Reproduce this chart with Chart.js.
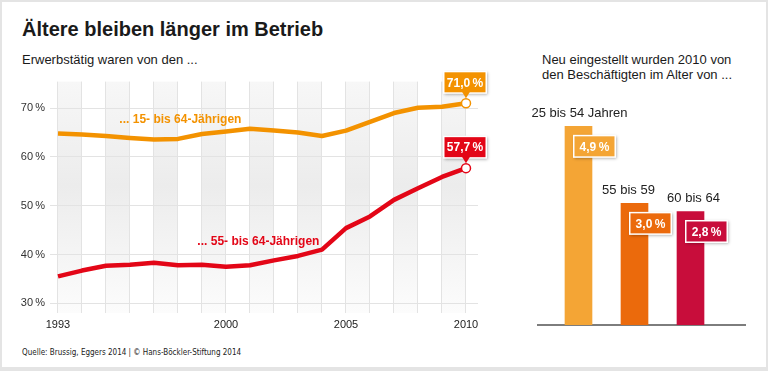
<!DOCTYPE html>
<html lang="de">
<head>
<meta charset="utf-8">
<title>Ältere bleiben länger im Betrieb</title>
<script src="https://cdn.jsdelivr.net/npm/chart.js@4.4.1/dist/chart.umd.min.js"></script>
<style>
  html, body { margin:0; padding:0; background:#fff; }
  body { position:relative; width:768px; height:371px; overflow:hidden;
         font-family:"Liberation Sans", Arial, sans-serif; color:#1a1a1a; }
  #frame { position:absolute; left:0; top:0; width:764px; height:365px;
           border-style:solid; border-color:#e4e4e4; border-width:2px 2px 4px 2px; }
  .txt { position:absolute; white-space:nowrap; }
  #title { left:22px; top:17px; font-size:20px; font-weight:bold; line-height:24px; }
  #subLeft { left:22px; top:52px; font-size:13px; line-height:16px; }
  #subRight { left:542px; top:53px; font-size:13px; line-height:14.5px; }
  #source { left:22px; top:347px; font-size:8px; line-height:11px; color:#222;
            font-family:"Liberation Sans Narrow", "DejaVu Sans Condensed", "Liberation Sans", sans-serif; }
  #lineChart { position:absolute; left:0; top:70px; }
  #barChart { position:absolute; left:520px; top:90px; }
</style>
</head>
<body>
<div id="frame"></div>
<div class="txt" id="title">Ältere bleiben länger im Betrieb</div>
<div class="txt" id="subLeft">Erwerbstätig waren von den ...</div>
<div class="txt" id="subRight">Neu eingestellt wurden 2010 von<br>den Beschäftigten im Alter von ...</div>
<div class="txt" id="source">Quelle: Brussig, Eggers 2014 | © Hans-Böckler-Stiftung 2014</div>
<canvas id="lineChart" width="510" height="270"></canvas>
<canvas id="barChart" width="248" height="260"></canvas>
<script>
// --- Daten ---
const years = [1993, 1994, 1995, 1996, 1997, 1998, 1999, 2000, 2001, 2002,
               2003, 2004, 2005, 2006, 2007, 2008, 2009, 2010];
const rate15to64 = [64.8, 64.6, 64.3, 63.9, 63.6, 63.7, 64.7, 65.2, 65.8, 65.4,
                    65.0, 64.3, 65.4, 67.2, 69.0, 70.1, 70.3, 71.0];
const rate55to64 = [35.5, 36.7, 37.7, 37.9, 38.3, 37.8, 37.9, 37.5, 37.8, 38.8,
                    39.7, 41.0, 45.4, 47.8, 51.2, 53.6, 55.9, 57.7];
const seriesNames = ['... 15- bis 64-Jährigen', '... 55- bis 64-Jährigen'];
const labeledYears = [1993, 2000, 2005, 2010];
const yTicks = [30, 40, 50, 60, 70];

const ageGroups = ['25 bis 54 Jahren', '55 bis 59', '60 bis 64'];
const hireRates = [4.9, 3.0, 2.8];

const ORANGE = '#f39200';
const RED = '#e30617';
const barColors = ['#f4a535', '#eb6a0c', '#c80d3b'];
const FONT = '"Liberation Sans", Arial, sans-serif';

Chart.defaults.font.family = FONT;
Chart.defaults.color = '#333';

const pct = v => v.toFixed(1).replace('.', ',') + '\u2009%';

// farbiges Kästchen mit weißem Rand + Schatten für die Werte
function tag(ctx, x, y, w, h, fill, text) {
    ctx.save();
    ctx.shadowColor = 'rgba(0,0,0,0.35)';
    ctx.shadowBlur = 3;
    ctx.shadowOffsetX = 1;
    ctx.shadowOffsetY = 1;
    ctx.fillStyle = '#fff';
    ctx.fillRect(x - 1.5, y - 1.5, w + 3, h + 3);
    ctx.restore();
    ctx.fillStyle = fill;
    ctx.fillRect(x, y, w, h);
    ctx.fillStyle = '#fff';
    ctx.font = 'bold 12px ' + FONT;
    ctx.textAlign = 'center';
    ctx.textBaseline = 'middle';
    ctx.fillText(text, x + w / 2, y + h / 2 + 1);
}

// =========================================
// Linienchart
// =========================================
const bandsPlugin = {
    id: 'bands',
    beforeDraw(chart) {
        const { ctx, chartArea: a, scales: { x } } = chart;
        const g = ctx.createLinearGradient(0, a.top, 0, a.bottom);
        g.addColorStop(0, '#f7f7f7');
        g.addColorStop(0.45, '#ececec');
        g.addColorStop(1, '#fcfcfc');
        ctx.save();
        ctx.fillStyle = g;
        years.filter(y => y % 2 === 1 && y < 2010).forEach(y => {
            const x0 = x.getPixelForValue(y), x1 = x.getPixelForValue(y + 1);
            ctx.fillRect(x0, a.top, x1 - x0, a.bottom - a.top);
        });
        ctx.restore();
    }
};

const lineLabels = {
    id: 'lineLabels',
    afterDatasetsDraw(chart) {
        const { ctx, scales: { x, y } } = chart;
        // Serienbeschriftung
        const anchors = [[1998.1, 67.6], [2001.35, 42.7]];
        ctx.save();
        ctx.font = 'bold 12px ' + FONT;
        ctx.textAlign = 'center';
        ctx.textBaseline = 'middle';
        chart.data.datasets.forEach((ds, i) => {
            ctx.fillStyle = ds.borderColor;
            ctx.fillText(seriesNames[i], x.getPixelForValue(anchors[i][0]), y.getPixelForValue(anchors[i][1]));
        });
        // Endwerte
        chart.data.datasets.forEach((ds, i) => {
            const pts = chart.getDatasetMeta(i).data;
            const p = pts[pts.length - 1];
            const text = pct(ds.data[ds.data.length - 1].y);
            ctx.font = 'bold 12px ' + FONT;
            const w = Math.round(ctx.measureText(text).width + 5);
            const h = 20, bottom = p.y - 11;
            tag(ctx, p.x - w / 2 - 1, bottom - h, w, h, ds.borderColor, text);
            ctx.fillStyle = ds.borderColor;
            ctx.beginPath();
            ctx.moveTo(p.x - 4, bottom - 0.5);
            ctx.lineTo(p.x + 4, bottom - 0.5);
            ctx.lineTo(p.x, bottom + 6);
            ctx.closePath();
            ctx.fill();
        });
        ctx.restore();
    }
};

const lastOnly = c => c.dataIndex === years.length - 1 ? 4.5 : 0;

new Chart(document.getElementById('lineChart'), {
    type: 'line',
    data: {
        labels: years,
        datasets: [
            { data: rate15to64.map((v, i) => ({ x: years[i], y: v })), borderColor: ORANGE },
            { data: rate55to64.map((v, i) => ({ x: years[i], y: v })), borderColor: RED }
        ].map(d => Object.assign(d, {
            borderWidth: 4.5, tension: 0, borderJoinStyle: 'round',
            pointRadius: lastOnly, pointBackgroundColor: '#fff',
            pointBorderColor: d.borderColor, pointBorderWidth: 1.5
        }))
    },
    options: {
        responsive: false, animation: false, devicePixelRatio: 1,
        layout: { padding: { left: 0, right: 32, top: 8, bottom: 0 } },
        plugins: { legend: { display: false }, tooltip: { enabled: false } },
        scales: {
            x: {
                type: 'linear', min: 1992.667, max: 2010.5,
                afterBuildTicks: s => { s.ticks = years.map(v => ({ value: v })); },
                afterFit: s => { s.height = 27; },
                grid: { color: '#e3e3e3', lineWidth: 1, drawTicks: false },
                border: { display: false },
                ticks: {
                    autoSkip: false, maxRotation: 0, padding: 5,
                    font: { size: 11 }, color: '#222',
                    callback: v => labeledYears.includes(v) ? String(v) : ''
                }
            },
            y: {
                min: 28, max: 75.45,
                afterBuildTicks: s => { s.ticks = yTicks.map(v => ({ value: v })); },
                afterFit: s => { s.width = 50; },
                grid: { color: '#e3e3e3', lineWidth: 1, drawTicks: false },
                border: { display: false },
                ticks: { padding: 5, font: { size: 11 }, color: '#333', callback: v => v + '\u2009%' }
            }
        }
    },
    plugins: [bandsPlugin, lineLabels]
});

// =========================================
// Säulenchart
// =========================================
const nameShift = [1, -6, 3];   // kleine Versätze der Altersbeschriftung wie im Original

const barLabels = {
    id: 'barLabels',
    afterDatasetsDraw(chart) {
        const { ctx } = chart;
        const bars = chart.getDatasetMeta(0).data;
        ctx.save();
        bars.forEach((b, i) => {
            ctx.font = '13px ' + FONT;
            ctx.fillStyle = '#222';
            ctx.textAlign = 'center';
            ctx.textBaseline = 'alphabetic';
            ctx.fillText(ageGroups[i], b.x + nameShift[i], b.y - 9);
            const text = pct(hireRates[i]);
            ctx.font = 'bold 12px ' + FONT;
            const w = Math.round(ctx.measureText(text).width + 10);
            tag(ctx, b.x - 4, b.y + 10, w, 20, barColors[i], text);
        });
        ctx.restore();
    }
};

new Chart(document.getElementById('barChart'), {
    type: 'bar',
    data: {
        datasets: [{
            data: hireRates.map((v, i) => ({ x: i, y: v })),
            backgroundColor: barColors,
            barThickness: 27
        }]
    },
    options: {
        responsive: false, animation: false, devicePixelRatio: 1,
        layout: { padding: { left: 18, right: 23, top: 12, bottom: 0 } },
        plugins: { legend: { display: false }, tooltip: { enabled: false } },
        scales: {
            x: {
                type: 'linear', min: -0.723, max: 2.973, offset: false,
                grid: { display: false, offset: false },
                ticks: { display: false },
                border: { display: true, color: '#7d7d7d', width: 2 },
                afterFit: s => { s.height = 25; }
            },
            y: { display: false, min: 0, max: 5.5 }
        }
    },
    plugins: [barLabels]
});
</script>
</body>
</html>
